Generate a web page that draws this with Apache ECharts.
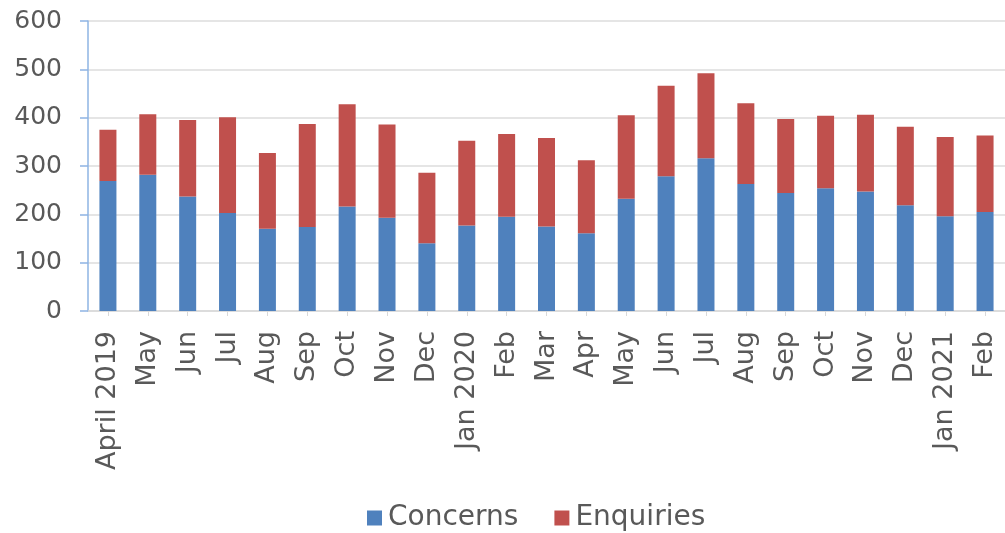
<!DOCTYPE html>
<html>
<head>
<meta charset="utf-8">
<script src="https://cdn.jsdelivr.net/npm/echarts@6/dist/echarts.min.js"></script>
<style>html,body{margin:0;padding:0;background:#fff;}#c{width:1005px;height:533px;}</style>
</head>
<body>
<div id="c"></div>
<script>
const categories = ['April 2019','May','Jun','Jul','Aug','Sep','Oct','Nov','Dec','Jan 2020','Feb','Mar','Apr','May','Jun','Jul','Aug','Sep','Oct','Nov','Dec','Jan 2021','Feb'];
const concerns  = [269,282,237,203,170,174,216,193,140,177,195,175,161,232,279,316,263,244,254,247,219,196,205];
const enquiries = [106,125,158,198,157,213,212,193,146,175,171,183,151,173,187,176,167,153,150,159,162,164,158];
const yTicks = [0,100,200,300,400,500,600];

const chart = echarts.init(document.getElementById('c'));
const font = 'DejaVu Sans';
chart.setOption({
  animation: false,
  backgroundColor: '#ffffff',
  grid: {left: 88, right: 0, top: 21, bottom: 222, containLabel: false},
  legend: {
    data: ['Concerns','Enquiries'],
    left: 362, top: 499,
    icon: 'rect', itemWidth: 15, itemHeight: 15, itemGap: 36,
    textStyle: {fontFamily: font, fontSize: 28, color: '#595959', padding: [0,0,0,1]}
  },
  xAxis: {
    type: 'category',
    data: categories,
    boundaryGap: true,
    axisLine: {lineStyle: {color: '#d9d9d9', width: 1.5}},
    axisTick: {show: true, alignWithLabel: true, length: 5, lineStyle: {color: '#d9d9d9'}},
    axisLabel: {rotate: 90, interval: 0, margin: 20, fontFamily: font, fontSize: 27, color: '#595959'}
  },
  yAxis: {
    type: 'value',
    min: yTicks[0], max: yTicks[yTicks.length-1], interval: 100,
    axisLine: {show: true, lineStyle: {color: '#8eb4e3', width: 1.5}},
    axisTick: {show: true, length: 8, lineStyle: {color: '#8eb4e3', width: 1.5}},
    splitLine: {lineStyle: {color: '#dcdcdc', width: 1.5}},
    axisLabel: {margin: 26, fontFamily: font, fontSize: 25, color: '#595959'}
  },
  series: [
    {name: 'Concerns', type: 'bar', stack: 'total', data: concerns, barWidth: 17, itemStyle: {color: '#4f81bd'}},
    {name: 'Enquiries', type: 'bar', stack: 'total', data: enquiries, barWidth: 17, itemStyle: {color: '#c0504d'}}
  ]
});
</script>
</body>
</html>
